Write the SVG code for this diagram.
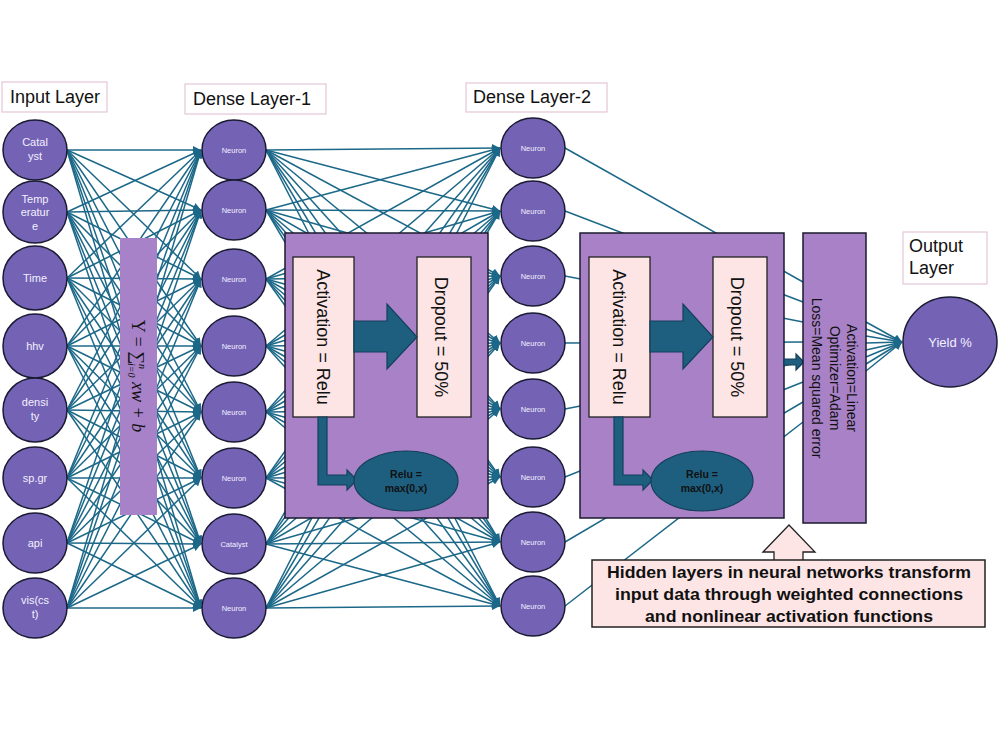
<svg xmlns="http://www.w3.org/2000/svg" width="1000" height="750" viewBox="0 0 1000 750">
<defs>
<marker id="ah" viewBox="0 0 10 10" refX="10" refY="5" markerWidth="8" markerHeight="8" markerUnits="userSpaceOnUse" orient="auto"><path d="M0,0 L10,5 L0,10 z" fill="#1c6888"/></marker>
<style>
.c line{stroke:#1c6888;stroke-width:1.5;fill:none}
.m line{marker-end:url(#ah)}
.node{fill:#7463b5;stroke:#1a1a33;stroke-width:1.5}
.nt{font-family:"Liberation Sans",Arial,sans-serif;fill:#f3efff;text-anchor:middle}
.lbl{fill:#fff;stroke:#e3c6d6;stroke-width:1.2}
.lt{font-family:"Liberation Sans",Arial,sans-serif;font-size:18px;fill:#111}
.box{fill:#a881c6;stroke:#1a1a2e;stroke-width:1.5}
.pink{fill:#fde5e5;stroke:#222;stroke-width:1.3}
.blk{fill:#1e5f80;stroke:#13405a;stroke-width:1.2}
.rt{font-family:"Liberation Sans",Arial,sans-serif;fill:#111;text-anchor:middle}
</style>
</defs>
<rect width="1000" height="750" fill="#fff"/>

<g id="connectors" class="c">
<g class="m">
<line x1="67" y1="150" x2="201" y2="150"/><line x1="67" y1="150" x2="201" y2="210"/><line x1="67" y1="150" x2="201" y2="279"/><line x1="67" y1="150" x2="201" y2="346"/><line x1="67" y1="150" x2="201" y2="412"/><line x1="67" y1="150" x2="201" y2="478"/><line x1="67" y1="150" x2="201" y2="544"/><line x1="67" y1="150" x2="201" y2="608"/>
<line x1="67" y1="212" x2="201" y2="150"/><line x1="67" y1="212" x2="201" y2="210"/><line x1="67" y1="212" x2="201" y2="279"/><line x1="67" y1="212" x2="201" y2="346"/><line x1="67" y1="212" x2="201" y2="412"/><line x1="67" y1="212" x2="201" y2="478"/><line x1="67" y1="212" x2="201" y2="544"/><line x1="67" y1="212" x2="201" y2="608"/>
<line x1="67" y1="278" x2="201" y2="150"/><line x1="67" y1="278" x2="201" y2="210"/><line x1="67" y1="278" x2="201" y2="279"/><line x1="67" y1="278" x2="201" y2="346"/><line x1="67" y1="278" x2="201" y2="412"/><line x1="67" y1="278" x2="201" y2="478"/><line x1="67" y1="278" x2="201" y2="544"/><line x1="67" y1="278" x2="201" y2="608"/>
<line x1="67" y1="346" x2="201" y2="150"/><line x1="67" y1="346" x2="201" y2="210"/><line x1="67" y1="346" x2="201" y2="279"/><line x1="67" y1="346" x2="201" y2="346"/><line x1="67" y1="346" x2="201" y2="412"/><line x1="67" y1="346" x2="201" y2="478"/><line x1="67" y1="346" x2="201" y2="544"/><line x1="67" y1="346" x2="201" y2="608"/>
<line x1="67" y1="410" x2="201" y2="150"/><line x1="67" y1="410" x2="201" y2="210"/><line x1="67" y1="410" x2="201" y2="279"/><line x1="67" y1="410" x2="201" y2="346"/><line x1="67" y1="410" x2="201" y2="412"/><line x1="67" y1="410" x2="201" y2="478"/><line x1="67" y1="410" x2="201" y2="544"/><line x1="67" y1="410" x2="201" y2="608"/>
<line x1="67" y1="478" x2="201" y2="150"/><line x1="67" y1="478" x2="201" y2="210"/><line x1="67" y1="478" x2="201" y2="279"/><line x1="67" y1="478" x2="201" y2="346"/><line x1="67" y1="478" x2="201" y2="412"/><line x1="67" y1="478" x2="201" y2="478"/><line x1="67" y1="478" x2="201" y2="544"/><line x1="67" y1="478" x2="201" y2="608"/>
<line x1="67" y1="543" x2="201" y2="150"/><line x1="67" y1="543" x2="201" y2="210"/><line x1="67" y1="543" x2="201" y2="279"/><line x1="67" y1="543" x2="201" y2="346"/><line x1="67" y1="543" x2="201" y2="412"/><line x1="67" y1="543" x2="201" y2="478"/><line x1="67" y1="543" x2="201" y2="544"/><line x1="67" y1="543" x2="201" y2="608"/>
<line x1="67" y1="608" x2="201" y2="150"/><line x1="67" y1="608" x2="201" y2="210"/><line x1="67" y1="608" x2="201" y2="279"/><line x1="67" y1="608" x2="201" y2="346"/><line x1="67" y1="608" x2="201" y2="412"/><line x1="67" y1="608" x2="201" y2="478"/><line x1="67" y1="608" x2="201" y2="544"/><line x1="67" y1="608" x2="201" y2="608"/>

<line x1="266" y1="150" x2="500" y2="148"/><line x1="266" y1="150" x2="500" y2="211"/><line x1="266" y1="150" x2="500" y2="276"/><line x1="266" y1="150" x2="500" y2="343"/><line x1="266" y1="150" x2="500" y2="409"/><line x1="266" y1="150" x2="500" y2="477"/><line x1="266" y1="150" x2="500" y2="542"/><line x1="266" y1="150" x2="500" y2="606"/>
<line x1="266" y1="210" x2="500" y2="148"/><line x1="266" y1="210" x2="500" y2="211"/><line x1="266" y1="210" x2="500" y2="276"/><line x1="266" y1="210" x2="500" y2="343"/><line x1="266" y1="210" x2="500" y2="409"/><line x1="266" y1="210" x2="500" y2="477"/><line x1="266" y1="210" x2="500" y2="542"/><line x1="266" y1="210" x2="500" y2="606"/>
<line x1="266" y1="279" x2="500" y2="148"/><line x1="266" y1="279" x2="500" y2="211"/><line x1="266" y1="279" x2="500" y2="276"/><line x1="266" y1="279" x2="500" y2="343"/><line x1="266" y1="279" x2="500" y2="409"/><line x1="266" y1="279" x2="500" y2="477"/><line x1="266" y1="279" x2="500" y2="542"/><line x1="266" y1="279" x2="500" y2="606"/>
<line x1="266" y1="346" x2="500" y2="148"/><line x1="266" y1="346" x2="500" y2="211"/><line x1="266" y1="346" x2="500" y2="276"/><line x1="266" y1="346" x2="500" y2="343"/><line x1="266" y1="346" x2="500" y2="409"/><line x1="266" y1="346" x2="500" y2="477"/><line x1="266" y1="346" x2="500" y2="542"/><line x1="266" y1="346" x2="500" y2="606"/>
<line x1="266" y1="412" x2="500" y2="148"/><line x1="266" y1="412" x2="500" y2="211"/><line x1="266" y1="412" x2="500" y2="276"/><line x1="266" y1="412" x2="500" y2="343"/><line x1="266" y1="412" x2="500" y2="409"/><line x1="266" y1="412" x2="500" y2="477"/><line x1="266" y1="412" x2="500" y2="542"/><line x1="266" y1="412" x2="500" y2="606"/>
<line x1="266" y1="478" x2="500" y2="148"/><line x1="266" y1="478" x2="500" y2="211"/><line x1="266" y1="478" x2="500" y2="276"/><line x1="266" y1="478" x2="500" y2="343"/><line x1="266" y1="478" x2="500" y2="409"/><line x1="266" y1="478" x2="500" y2="477"/><line x1="266" y1="478" x2="500" y2="542"/><line x1="266" y1="478" x2="500" y2="606"/>
<line x1="266" y1="544" x2="500" y2="148"/><line x1="266" y1="544" x2="500" y2="211"/><line x1="266" y1="544" x2="500" y2="276"/><line x1="266" y1="544" x2="500" y2="343"/><line x1="266" y1="544" x2="500" y2="409"/><line x1="266" y1="544" x2="500" y2="477"/><line x1="266" y1="544" x2="500" y2="542"/><line x1="266" y1="544" x2="500" y2="606"/>
<line x1="266" y1="608" x2="500" y2="148"/><line x1="266" y1="608" x2="500" y2="211"/><line x1="266" y1="608" x2="500" y2="276"/><line x1="266" y1="608" x2="500" y2="343"/><line x1="266" y1="608" x2="500" y2="409"/><line x1="266" y1="608" x2="500" y2="477"/><line x1="266" y1="608" x2="500" y2="542"/><line x1="266" y1="608" x2="500" y2="606"/>

<line x1="866" y1="322" x2="902" y2="342"/><line x1="866" y1="329" x2="902" y2="342"/><line x1="866" y1="336" x2="902" y2="342"/><line x1="866" y1="343" x2="902" y2="342"/><line x1="866" y1="350" x2="902" y2="342"/><line x1="866" y1="357" x2="902" y2="342"/><line x1="866" y1="364" x2="902" y2="342"/><line x1="866" y1="371" x2="902" y2="342"/>
</g>
<line x1="565" y1="148" x2="803" y2="282"/><line x1="565" y1="211" x2="803" y2="302"/><line x1="565" y1="276" x2="803" y2="322"/><line x1="565" y1="343" x2="803" y2="342"/><line x1="565" y1="409" x2="803" y2="362"/><line x1="565" y1="477" x2="803" y2="382"/><line x1="565" y1="542" x2="803" y2="402"/><line x1="565" y1="606" x2="803" y2="422"/>
</g>

<g id="label-input"><rect class="lbl" x="2" y="82" width="105" height="30"/><text class="lt" x="10" y="103">Input Layer</text></g>
<g id="label-dense1"><rect class="lbl" x="185" y="84" width="141" height="30"/><text class="lt" x="193" y="105">Dense Layer-1</text></g>
<g id="label-dense2"><rect class="lbl" x="466" y="83" width="141" height="29"/><text class="lt" x="473" y="103">Dense Layer-2</text></g>
<g id="label-output"><rect class="lbl" x="903" y="232" width="84" height="52"/><text class="lt" x="909" y="252">Output</text><text class="lt" x="909" y="274">Layer</text></g>

<g id="formula"><rect x="120" y="238" width="37" height="277" fill="#a882c8"/>
<text transform="translate(138,376) rotate(90)" y="6" text-anchor="middle" font-family="'Liberation Serif','DejaVu Serif',serif" font-size="18" fill="#111">Y = ∑<tspan font-size="10" font-style="italic" dy="-7">n</tspan><tspan font-size="10" font-style="italic" dx="-6" dy="11">i=0</tspan><tspan font-style="italic" dy="-4"> xw + b</tspan></text></g>

<g id="input-nodes">
<g id="in-catalyst"><ellipse class="node" cx="35" cy="150" rx="32" ry="30"/><text class="nt" font-size="11" x="35" y="146">Catal</text><text class="nt" font-size="11" x="35" y="160">yst</text></g>
<g id="in-temperature"><ellipse class="node" cx="35" cy="212" rx="32" ry="31"/><text class="nt" font-size="11" x="35" y="203">Temp</text><text class="nt" font-size="11" x="35" y="216">eratur</text><text class="nt" font-size="11" x="35" y="230">e</text></g>
<g id="in-time"><ellipse class="node" cx="35" cy="278" rx="32" ry="32"/><text class="nt" font-size="11" x="35" y="282">Time</text></g>
<g id="in-hhv"><ellipse class="node" cx="35" cy="346" rx="32" ry="32"/><text class="nt" font-size="11" x="35" y="350">hhv</text></g>
<g id="in-density"><ellipse class="node" cx="35" cy="410" rx="32" ry="32"/><text class="nt" font-size="11" x="35" y="406">densi</text><text class="nt" font-size="11" x="35" y="420">ty</text></g>
<g id="in-spgr"><ellipse class="node" cx="35" cy="478" rx="32" ry="31"/><text class="nt" font-size="11" x="35" y="482">sp.gr</text></g>
<g id="in-api"><ellipse class="node" cx="35" cy="543" rx="32" ry="30"/><text class="nt" font-size="11" x="35" y="547">api</text></g>
<g id="in-vis"><ellipse class="node" cx="35" cy="608" rx="32" ry="30"/><text class="nt" font-size="11" x="35" y="604">vis(cs</text><text class="nt" font-size="11" x="35" y="618">t)</text></g>
</g>

<g id="dense1-nodes">
<g id="d1-n1"><ellipse class="node" cx="234" cy="150" rx="32" ry="30"/><text class="nt" font-size="7.5" x="234" y="153">Neuron</text></g>
<g id="d1-n2"><ellipse class="node" cx="234" cy="210" rx="32" ry="30"/><text class="nt" font-size="7.5" x="234" y="213">Neuron</text></g>
<g id="d1-n3"><ellipse class="node" cx="234" cy="279" rx="32" ry="30"/><text class="nt" font-size="7.5" x="234" y="282">Neuron</text></g>
<g id="d1-n4"><ellipse class="node" cx="234" cy="346" rx="32" ry="30"/><text class="nt" font-size="7.5" x="234" y="349">Neuron</text></g>
<g id="d1-n5"><ellipse class="node" cx="234" cy="412" rx="32" ry="30"/><text class="nt" font-size="7.5" x="234" y="415">Neuron</text></g>
<g id="d1-n6"><ellipse class="node" cx="234" cy="478" rx="32" ry="30"/><text class="nt" font-size="7.5" x="234" y="481">Neuron</text></g>
<g id="d1-n7"><ellipse class="node" cx="234" cy="544" rx="32" ry="30"/><text class="nt" font-size="7.5" x="234" y="547">Catalyst</text></g>
<g id="d1-n8"><ellipse class="node" cx="234" cy="608" rx="32" ry="30"/><text class="nt" font-size="7.5" x="234" y="611">Neuron</text></g>
</g>

<g id="dense2-nodes">
<g id="d2-n1"><ellipse class="node" cx="533" cy="148" rx="32" ry="30"/><text class="nt" font-size="7.5" x="533" y="151">Neuron</text></g>
<g id="d2-n2"><ellipse class="node" cx="533" cy="211" rx="32" ry="30"/><text class="nt" font-size="7.5" x="533" y="214">Neuron</text></g>
<g id="d2-n3"><ellipse class="node" cx="533" cy="276" rx="32" ry="30"/><text class="nt" font-size="7.5" x="533" y="279">Neuron</text></g>
<g id="d2-n4"><ellipse class="node" cx="533" cy="343" rx="32" ry="30"/><text class="nt" font-size="7.5" x="533" y="346">Neuron</text></g>
<g id="d2-n5"><ellipse class="node" cx="533" cy="409" rx="32" ry="30"/><text class="nt" font-size="7.5" x="533" y="412">Neuron</text></g>
<g id="d2-n6"><ellipse class="node" cx="533" cy="477" rx="32" ry="30"/><text class="nt" font-size="7.5" x="533" y="480">Neuron</text></g>
<g id="d2-n7"><ellipse class="node" cx="533" cy="542" rx="32" ry="30"/><text class="nt" font-size="7.5" x="533" y="545">Neuron</text></g>
<g id="d2-n8"><ellipse class="node" cx="533" cy="606" rx="32" ry="30"/><text class="nt" font-size="7.5" x="533" y="609">Neuron</text></g>
</g>

<g id="block1">
<rect class="box" x="285" y="233" width="203" height="285"/>
<rect class="pink" x="293" y="257" width="61" height="160"/>
<rect class="pink" x="417" y="257" width="54" height="160"/>
<text class="rt" font-size="18" transform="translate(323.5,337) rotate(90)" y="6.5">Activation = Relu</text>
<text class="rt" font-size="18" transform="translate(444,337) rotate(90)" y="9">Dropout = 50%</text>
<path class="blk" d="M354,321 L387,321 L387,304 L417,337 L387,369 L387,352 L354,352 Z"/>
<path class="blk" d="M318,417 L327,417 L327,475 L347,475 L347,470 L357,480 L347,490 L347,485 L318,485 Z"/>
<ellipse class="blk" cx="406" cy="481" rx="52" ry="30"/>
<text class="rt" font-size="10.5" font-weight="bold" x="406" y="478">Relu =</text>
<text class="rt" font-size="10.5" font-weight="bold" x="406" y="492">max(0,x)</text>
</g>

<g id="block2">
<rect class="box" x="580" y="233" width="204" height="285"/>
<rect class="pink" x="589" y="257" width="61" height="160"/>
<rect class="pink" x="713" y="257" width="54" height="160"/>
<text class="rt" font-size="18" transform="translate(619.5,337) rotate(90)" y="6.5">Activation = Relu</text>
<text class="rt" font-size="18" transform="translate(740,337) rotate(90)" y="9">Dropout = 50%</text>
<path class="blk" d="M650,321 L683,321 L683,304 L713,337 L683,369 L683,352 L650,352 Z"/>
<path class="blk" d="M614,417 L623,417 L623,475 L643,475 L643,470 L653,480 L643,490 L643,485 L614,485 Z"/>
<ellipse class="blk" cx="702" cy="481" rx="51" ry="30"/>
<text class="rt" font-size="10.5" font-weight="bold" x="702" y="478">Relu =</text>
<text class="rt" font-size="10.5" font-weight="bold" x="702" y="492">max(0,x)</text>
</g>

<g id="block-arrow"><path class="blk" d="M784,359 L796,359 L796,354 L804,362 L796,370 L796,365 L784,365 Z"/></g>

<g id="output-config">
<rect class="box" x="803" y="233" width="63" height="290"/>
<text class="rt" font-size="14" transform="translate(835,378) rotate(90)"><tspan x="0" y="-12">Activation=Linear</tspan><tspan x="0" y="5">Optimizer=Adam</tspan><tspan x="0" y="23">Loss=Mean squared error</tspan></text>
</g>

<g id="output-node"><ellipse class="node" cx="950" cy="342" rx="47" ry="45"/><text class="nt" font-size="13" x="950" y="347">Yield %</text></g>

<g id="callout">
<path d="M763,552 L789,525 L815,552 L803,552 L803,562 L774,562 L774,552 Z" fill="#fde5e5" stroke="#222" stroke-width="1.3"/>
<rect x="592" y="560" width="393" height="67" fill="#fde5e5" stroke="#222" stroke-width="1.5"/>
<text class="rt" font-size="16" font-weight="bold" fill="#1a1a1a"><tspan x="789" y="578" textLength="364" lengthAdjust="spacingAndGlyphs">Hidden layers in neural networks transform</tspan><tspan x="789" y="600" textLength="348" lengthAdjust="spacingAndGlyphs">input data through weighted connections</tspan><tspan x="789" y="622" textLength="288" lengthAdjust="spacingAndGlyphs">and nonlinear activation functions</tspan></text>
</g>
</svg>
